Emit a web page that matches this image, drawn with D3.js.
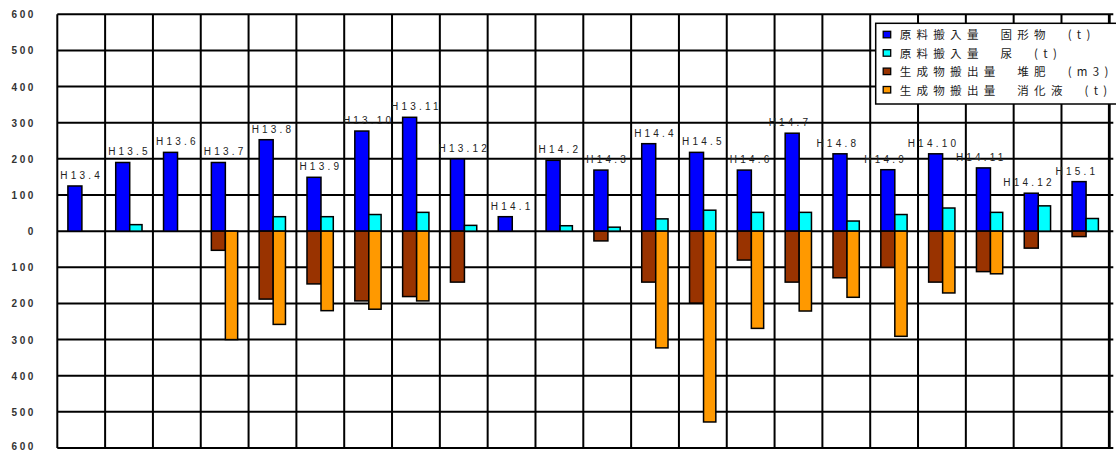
<!DOCTYPE html>
<html><head><meta charset="utf-8">
<script src="https://cdn.jsdelivr.net/npm/d3@7"></script>
<style>html,body{margin:0;padding:0;background:#fff;overflow:hidden}</style>
</head><body>
<svg id="c" width="1116" height="451"></svg>
<script>
const months = ["H13.4","H13.5","H13.6","H13.7","H13.8","H13.9","H13.10","H13.11","H13.12","H14.1","H14.2","H14.3","H14.4","H14.5","H14.6","H14.7","H14.8","H14.9","H14.10","H14.11","H14.12","H15.1"];
const solidIn   = [125,190,218,190,253,149,277,315,200,40,196,169,242,218,169,271,214,170,214,175,105,137];
const urineIn   = [0,18,0,0,40,40,46,52,16,0,15,11,34,58,52,52,28,46,64,52,70,35];
const compostOut= [0,0,0,53,188,146,193,181,141,0,0,27,141,199,80,141,129,100,141,112,47,15];
const liquidOut = [0,0,0,300,258,220,216,193,0,0,0,0,323,528,269,221,183,291,171,118,0,0];
const yTicks = [600,500,400,300,200,100,0,-100,-200,-300,-400,-500,-600];
const seriesNames = ["原料搬入量　固形物　(t)","原料搬入量　尿　(t)","生成物搬出量　堆肥　(m3)","生成物搬出量　消化液　(t)"];
const colors = ["#0000ff","#00ffff","#993300","#ff9900"];

const svg = d3.select("#c");
const L = 57.3, R = 1109.3, T = 14.3, B = 448;
const x = d3.scaleBand().domain(months).range([L, R]).padding(0);
const y = d3.scaleLinear().domain([-600, 600]).range([B, T]);
const bw = x.bandwidth();

// grid
const g = svg.append("g");
g.selectAll("line.h").data(yTicks).join("line")
  .attr("x1", L).attr("x2", R + 4).attr("y1", d => y(d)).attr("y2", d => y(d))
  .attr("stroke", "#000").attr("stroke-width", 2);
const vx = months.map(m => x(m)).concat([R]);
g.selectAll("line.v").data(vx).join("line")
  .attr("x1", d => d).attr("x2", d => d).attr("y1", T).attr("y2", B)
  .attr("stroke", "#000").attr("stroke-width", (d, i) => i === vx.length - 1 ? 2.8 : 2);

// y labels
svg.append("g").selectAll("text").data(yTicks).join("text")
  .attr("x", 36).attr("y", d => Math.min(y(d) + 4, 450))
  .attr("text-anchor", "end")
  .attr("font-family", "Liberation Sans, Arial, sans-serif")
  .attr("font-size", 10).attr("font-weight", "bold")
  .attr("letter-spacing", 2.6).attr("fill", "#333")
  .text(d => Math.abs(d));

// bars
const off1 = 10.6, w1 = 14, off2 = off1 + w1, w2 = 12.3;
const bars = [
  {vals: solidIn, sign: 1, off: off1, w: w1, c: colors[0]},
  {vals: urineIn, sign: 1, off: off2, w: w2, c: colors[1]},
  {vals: compostOut, sign: -1, off: off1, w: w1, c: colors[2]},
  {vals: liquidOut, sign: -1, off: off2, w: w2, c: colors[3]}
];
bars.forEach(s => {
  const data = s.vals.map((v, i) => ({m: months[i], v: v * s.sign})).filter(d => d.v !== 0);
  svg.append("g").selectAll("rect").data(data).join("rect")
    .attr("x", d => x(d.m) + s.off)
    .attr("width", s.w)
    .attr("y", d => Math.min(y(d.v), y(0)))
    .attr("height", d => Math.abs(y(d.v) - y(0)))
    .attr("fill", s.c).attr("stroke", "#000").attr("stroke-width", 1.5);
});

// month labels
svg.append("g").selectAll("text").data(months).join("text")
  .attr("x", (m, i) => x(m) + bw / 2 + (i >= 15 ? -10 : -1) + 1.5)
  .attr("y", (m, i) => y(solidIn[i]) - 7)
  .attr("text-anchor", "middle")
  .attr("font-family", "Liberation Sans, Arial, sans-serif")
  .attr("font-size", 10).attr("letter-spacing", 3.2).attr("fill", "#222")
  .text(m => m);

// legend
const lg = svg.append("g");
const lx = 875.7, ly = 23.3, lh = 80.7, rowH = 18.4;
lg.append("rect").attr("x", lx).attr("y", ly).attr("width", 260).attr("height", lh)
  .attr("fill", "#fff").attr("stroke", "#000").attr("stroke-width", 1.5);
seriesNames.forEach((n, i) => {
  const cy = ly + 11.5 + i * rowH;
  lg.append("rect").attr("x", lx + 7.5).attr("y", cy - 3.5).attr("width", 7.5).attr("height", 6.5)
    .attr("fill", colors[i]).attr("stroke", "#000").attr("stroke-width", 1.3);
  lg.append("text").attr("x", lx + 24).attr("y", cy + 4.5)
    .attr("font-family", "Noto Sans CJK JP, sans-serif")
    .attr("font-size", 11.5).attr("letter-spacing", 5.3).attr("fill", "#222")
    .text(n);
});
</script>
</body></html>
